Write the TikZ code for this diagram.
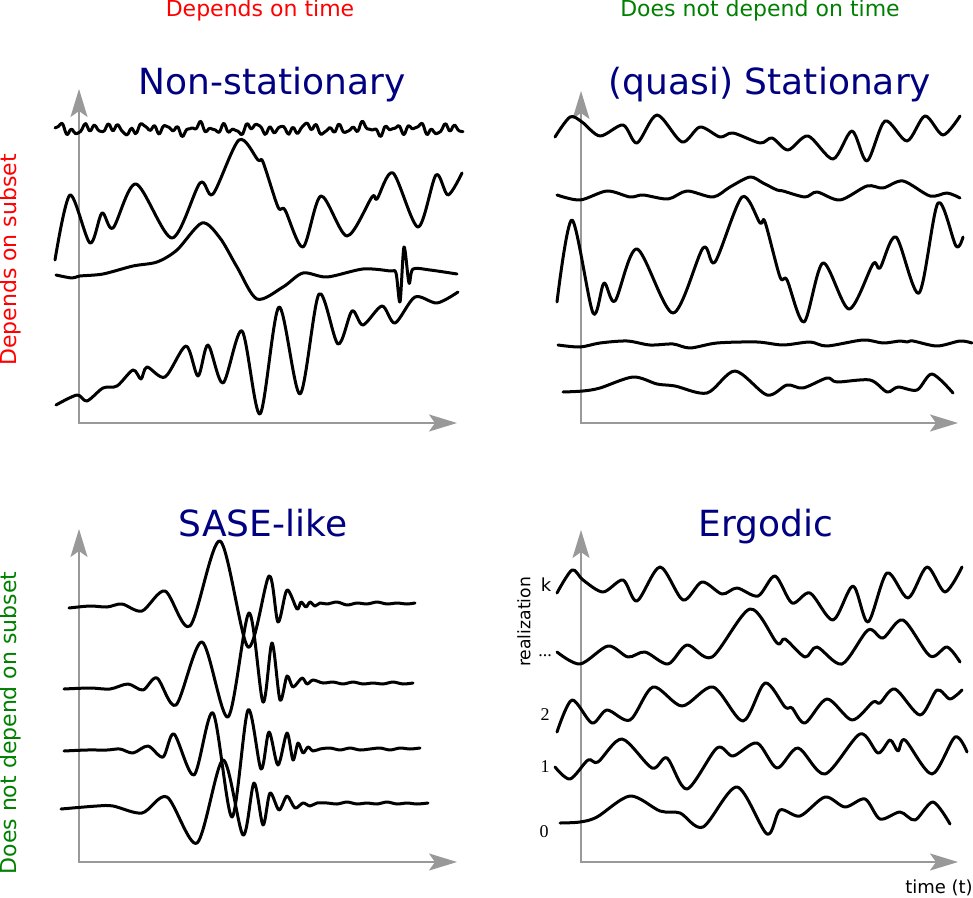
\documentclass[tikz,border=0pt]{standalone}
\usepackage{fontspec}
\setmainfont{DejaVu Sans}
\newfontfamily\serifnum{Liberation Serif}
\usetikzlibrary{arrows.meta}
\definecolor{navytitle}{RGB}{0,0,128}
\definecolor{darkgreen}{RGB}{0,128,0}
\definecolor{axisgray}{RGB}{153,153,153}

\begin{document}
\begin{tikzpicture}[
  x=0.5pt,y=-0.5pt,
  >={Stealth[length=14pt,width=8.5pt,inset=3pt]},
  axis/.style={<->,draw=axisgray,line width=1pt},
  wave/.style={line width=1.5pt,line join=round,line cap=round},
  header/.style={font=\fontsize{11}{13}\selectfont,anchor=base},
  title/.style={text=navytitle,font=\fontsize{18}{21}\selectfont,anchor=base},
  side/.style={font=\fontsize{11}{13}\selectfont,rotate=90},
  index/.style={font=\serifnum\fontsize{9}{11}\selectfont}
]
  \useasboundingbox (0,0) rectangle (973,898);

  % column and row headers
  \node[header,text=red] (deptime) at (260,17) {Depends on time};
  \node[header,text=darkgreen] (nodeptime) at (760,17) {Does not depend on time};
  \node[side,text=red] (depsub) at (10,260) {Depends on subset};
  \node[side,text=darkgreen] (nodepsub) at (10,723) {Does not depend on subset};

  % panel titles
  \node[title] (nonstat) at (272,95) {Non-stationary};
  \node[title] (stat) at (770,95) {(quasi) Stationary};
  \node[title] (sase) at (263,536) {SASE-like};
  \node[title] (ergodic) at (766,536) {Ergodic};

  % axes
  \draw[axis] (79,89) |- (457,423);
  \draw[axis] (581,91) |- (958,423);
  \draw[axis] (79,529) |- (457,862);
  \draw[axis] (581,530) |- (958,862);
  \node[font=\fontsize{9}{11}\selectfont,anchor=base] (time) at (939,893) {time (t)};
  \node[font=\fontsize{8.6}{10}\selectfont,rotate=90] (real) at (524,622) {realization};

  % Non-stationary
  \draw[wave] plot[smooth,domain=55:463,samples=240]
    (\x,{129-3*sin(31*mod(\x,360/31))-2.5*sin(13*mod(\x,360/13)+40)
      -1.5*sin(47*mod(\x,360/47)+10)-1.5*sin(7*mod(\x,360/7)+100)});
  \draw[wave] plot[smooth] coordinates {(55,260) (70,195) (90,243) (102,213)
    (113,228) (136,184) (172,238) (200,183) (213,194) (239,140) (258,160)
    (263,162) (278,207) (285,210) (303,247) (321,196) (347,236) (372,197)
    (377,199) (393,173) (418,227) (436,175) (448,195) (462,173)};
  \draw[wave] plot[smooth] coordinates {(56,275) (72,278) (80,276) (103,274)
    (133,266) (157,262) (177,250) (202,223) (220,238) (237,267) (257,299)
    (283,287) (303,273) (327,277) (363,269) (390,271) (396,273) (400,302)
    (404,247) (409,283) (413,269) (430,270) (457,274)};
  \draw[wave] plot[smooth] coordinates {(56,405) (77,395) (87,401) (103,388)
    (117,386) (133,370) (141,379) (147,367) (165,377) (186,346) (198,376)
    (208,345) (223,383) (242,331) (260,414) (279,307) (300,394) (319,294)
    (338,344) (352,311) (363,325) (382,306) (395,323) (415,297) (437,303)
    (458,292)};

  % (quasi) Stationary
  \draw[wave] plot[smooth] coordinates {(555,137) (570,117) (582,122) (600,136)
    (623,125) (637,143) (657,115) (682,142) (700,127) (720,137) (733,133)
    (760,143) (772,138) (788,150) (808,136) (833,159) (852,131) (867,161)
    (885,121) (907,141) (925,116) (943,135) (960,116)};
  \draw[wave] plot[smooth] coordinates {(557,195) (580,200) (607,191) (630,197)
    (643,195) (668,199) (687,191) (713,197) (730,187) (750,177) (763,183)
    (777,190) (783,191) (805,197) (817,192) (840,200) (867,186) (883,188)
    (903,181) (930,196) (947,193) (960,198)};
  \draw[wave] plot[smooth] coordinates {(557,302) (572,220) (593,313) (604,283)
    (615,301) (637,249) (673,313) (703,248) (715,262) (742,197) (760,223)
    (765,222) (780,277) (787,280) (804,322) (823,263) (849,309) (873,264)
    (880,268) (896,237) (919,293) (938,203) (956,246) (963,237)};
  \draw[wave] plot[smooth] coordinates {(558,345) (580,347) (600,343) (627,341)
    (650,345) (673,344) (690,348) (717,343) (757,342) (783,345) (810,342)
    (827,346) (863,340) (883,343) (900,341) (907,342) (913,341) (937,346)
    (960,341) (972,343)};
  \draw[wave] plot[smooth] coordinates {(563,392) (583,391) (600,388) (633,377)
    (657,384) (675,386) (707,393) (735,371) (767,395) (787,385) (803,388)
    (827,378) (837,382) (870,380) (887,392) (898,387) (917,390) (932,374)
    (953,393)};

  % SASE-like
  \draw[wave] plot[smooth] coordinates {(69,608) (90,606) (107,607) (122,604)
    (142,611) (165,591) (190,626) (220,541) (248,647) (269,576) (278,622)
    (287,590) (297,609) (301,602) (306,607) (310,602) (315,606) (320,603)
    (327,604) (337,602) (347,605) (357,603) (367,604) (377,602) (387,604)
    (397,603) (407,604) (415,603)};
  \draw[wave] plot[smooth] coordinates {(64,689) (90,688) (110,689) (128,684)
    (143,690) (157,678) (176,705) (202,642) (228,717) (249,613) (263,702)
    (272,643) (280,700) (287,676) (293,687) (302,678) (307,684) (313,680)
    (323,683) (333,682) (343,684) (353,682) (363,684) (373,683) (383,684)
    (393,682) (403,684) (413,683)};
  \draw[wave] plot[smooth] coordinates {(64,751) (87,750) (107,750) (120,749)
    (133,753) (148,746) (163,757) (174,734) (194,775) (213,713) (232,817)
    (248,710) (261,769) (269,732) (278,765) (287,733) (293,760) (298,743)
    (303,753) (308,747) (313,751) (320,749) (330,748) (340,750) (350,748)
    (360,750) (370,749) (380,748) (390,750) (400,748) (410,749) (420,748)};
  \draw[wave] plot[smooth] coordinates {(61,809) (97,806) (113,806) (142,813)
    (167,797) (197,843) (223,760) (243,835) (254,783) (263,825) (270,793)
    (279,810) (287,796) (295,808) (303,803) (310,806) (317,803) (327,803)
    (337,804) (347,802) (357,804) (367,803) (377,804) (387,802) (397,804)
    (407,803) (417,804) (428,803)};

  % Ergodic
  \node[font=\fontsize{9}{11}\selectfont] (lk) at (546,585) {k};
  \node[index] (ldots) at (545,656) {...};
  \node[index] (l2) at (545,715) {2};
  \node[index] (l1) at (545,767) {1};
  \node[index] (l0) at (544,832) {0};
  \draw[wave] plot[smooth] coordinates {(557,593) (572,570) (583,580) (603,592)
    (623,580) (637,601) (660,567) (683,600) (702,582) (722,594) (737,588)
    (758,596) (775,576) (792,603) (810,593) (833,620) (853,586) (868,622)
    (887,573) (908,598) (927,567) (945,592) (962,567)};
  \draw[wave] plot[smooth] coordinates {(557,652) (580,664) (608,646) (628,657)
    (645,652) (668,664) (687,645) (712,657) (750,609) (777,643) (785,639)
    (805,657) (817,647) (842,664) (868,630) (883,638) (903,620) (930,656)
    (947,647) (960,662)};
  \draw[wave] plot[smooth] coordinates {(557,732) (572,700) (592,723) (607,710)
    (630,720) (653,687) (682,706) (713,687) (743,721) (765,683) (785,707)
    (792,708) (805,723) (827,699) (852,720) (873,702) (880,703) (895,689)
    (920,715) (937,690) (950,699) (962,690)};
  \draw[wave] plot[smooth] coordinates {(555,767) (570,779) (588,760) (598,762)
    (622,739) (652,768) (667,758) (687,789) (717,748) (733,756) (757,743)
    (777,768) (798,748) (825,774) (860,734) (878,753) (890,740) (898,751)
    (905,740) (932,774) (955,737) (967,752)};
  \draw[wave] plot[smooth] coordinates {(560,823) (580,822) (597,817) (630,796)
    (660,811) (680,813) (703,827) (737,787) (767,834) (780,810) (800,816)
    (825,797) (845,807) (865,799) (880,819) (900,812) (915,820) (933,802)
    (950,824)};
\end{tikzpicture}
\end{document}
